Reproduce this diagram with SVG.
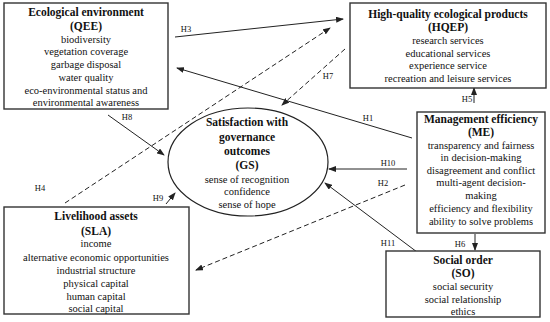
<svg xmlns="http://www.w3.org/2000/svg" width="550" height="322" viewBox="0 0 550 322">
<defs>
<marker id="ah" markerWidth="8" markerHeight="6" refX="7" refY="3" orient="auto" markerUnits="userSpaceOnUse">
<path d="M0,0 L8,3 L0,6 Z" fill="#222"/>
</marker>
<style>
.box{fill:#fff;stroke:#333;stroke-width:1.4}
.t{font-family:"Liberation Serif","Times New Roman",serif;font-size:11.5px;font-weight:bold;fill:#111;text-anchor:middle}
.b{font-family:"Liberation Serif","Times New Roman",serif;font-size:10.5px;fill:#111;text-anchor:middle}
.l{font-family:"Liberation Serif","Times New Roman",serif;font-size:8.5px;fill:#111;text-anchor:middle}
.c{fill:none;stroke:#222;stroke-width:1;marker-end:url(#ah)}
.d{stroke-dasharray:5,3}
</style>
</defs>
<rect width="550" height="322" fill="#fff"/>
<g id="connectors">
<line class="c" x1="175" y1="37" x2="343" y2="19"/>
<line class="c" x1="412" y1="138" x2="177" y2="68"/>
<line class="c d" x1="65" y1="203" x2="330" y2="28"/>
<line class="c d" x1="345" y1="49" x2="282" y2="105"/>
<line class="c" x1="108" y1="115" x2="164" y2="155"/>
<line class="c" x1="166" y1="204" x2="175" y2="193"/>
<line class="c" x1="407" y1="169" x2="329" y2="169"/>
<line class="c d" x1="405" y1="185" x2="196" y2="270"/>
<line class="c" x1="417" y1="252" x2="325" y2="183"/>
<line class="c" x1="474" y1="103" x2="474" y2="88"/>
<line class="c" x1="475" y1="234" x2="475" y2="250"/>
<text class="l" x="186" y="32">H3</text>
<text class="l" x="368" y="121">H1</text>
<text class="l" x="40" y="191">H4</text>
<text class="l" x="328" y="79">H7</text>
<text class="l" x="127" y="120">H8</text>
<text class="l" x="158" y="201">H9</text>
<text class="l" x="388" y="166">H10</text>
<text class="l" x="383" y="186">H2</text>
<text class="l" x="388" y="246">H11</text>
<text class="l" x="467" y="102">H5</text>
<text class="l" x="460" y="247">H6</text>
</g>
<g id="QEE">
<rect class="box" x="4" y="3" width="164" height="106"/>
<text class="t" x="86" y="16">Ecological environment</text>
<text class="t" x="86" y="29.5">(QEE)</text>
<text class="b" x="86" y="42.5">biodiversity</text>
<text class="b" x="86" y="55.3">vegetation coverage</text>
<text class="b" x="86" y="68">garbage disposal</text>
<text class="b" x="86" y="80.8">water quality</text>
<text class="b" x="86" y="93.5">eco-environmental status and</text>
<text class="b" x="86" y="106">environmental awareness</text>
</g>
<g id="HQEP">
<rect class="box" x="350" y="3" width="196" height="85"/>
<text class="t" x="448" y="17.5">High-quality ecological products</text>
<text class="t" x="448" y="30.5">(HQEP)</text>
<text class="b" x="448" y="44">research services</text>
<text class="b" x="448" y="56.5">educational services</text>
<text class="b" x="448" y="69">experience service</text>
<text class="b" x="448" y="82">recreation and leisure services</text>
</g>
<g id="ME">
<rect class="box" x="417" y="112" width="128" height="121"/>
<text class="t" x="481" y="123">Management efficiency</text>
<text class="t" x="481" y="136">(ME)</text>
<text class="b" x="481" y="148.8">transparency and fairness</text>
<text class="b" x="481" y="161.2">in decision-making</text>
<text class="b" x="481" y="173.6">disagreement and conflict</text>
<text class="b" x="481" y="186">multi-agent decision-</text>
<text class="b" x="481" y="198.5">making</text>
<text class="b" x="481" y="212">efficiency and flexibility</text>
<text class="b" x="481" y="225">ability to solve problems</text>
</g>
<g id="GS">
<ellipse cx="248" cy="162" rx="80" ry="54" fill="#fff" stroke="#222" stroke-width="1.2"/>
<text class="t" x="247" y="126">Satisfaction with</text>
<text class="t" x="247" y="140.5">governance</text>
<text class="t" x="247" y="155">outcomes</text>
<text class="t" x="247" y="169">(GS)</text>
<text class="b" x="247" y="182.5">sense of recognition</text>
<text class="b" x="247" y="195">confidence</text>
<text class="b" x="247" y="208">sense of hope</text>
</g>
<g id="SLA">
<rect class="box" x="4" y="207" width="185" height="107"/>
<text class="t" x="96" y="220">Livelihood assets</text>
<text class="t" x="96" y="234.5">(SLA)</text>
<text class="b" x="96" y="247">income</text>
<text class="b" x="96" y="261">alternative economic opportunities</text>
<text class="b" x="96" y="273.5">industrial structure</text>
<text class="b" x="96" y="286.5">physical capital</text>
<text class="b" x="96" y="299.5">human capital</text>
<text class="b" x="96" y="312">social capital</text>
</g>
<g id="SO">
<rect class="box" x="386" y="251" width="154" height="66"/>
<text class="t" x="463" y="263.5">Social order</text>
<text class="t" x="463" y="277">(SO)</text>
<text class="b" x="463" y="289.5">social security</text>
<text class="b" x="463" y="302.5">social relationship</text>
<text class="b" x="463" y="315">ethics</text>
</g>
</svg>
